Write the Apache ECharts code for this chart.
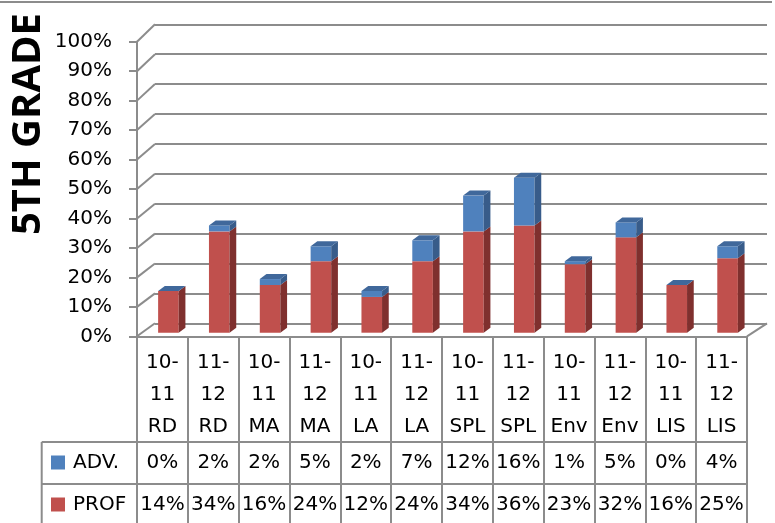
<!DOCTYPE html>
<html>
<head>
<meta charset="utf-8">
<style>
  html, body { margin: 0; padding: 0; background: #fff; }
  #chart { width: 775px; height: 523px; }
</style>
<script src="https://cdn.jsdelivr.net/npm/echarts@6/dist/echarts.min.js"></script>
</head>
<body>
<div id="chart"></div>
<script>
// ---- data ----
const categories = [
  '10-11 RD', '11-12 RD', '10-11 MA', '11-12 MA', '10-11 LA', '11-12 LA',
  '10-11 SPL', '11-12 SPL', '10-11 Env', '11-12 Env', '10-11 LIS', '11-12 LIS'
];
const advValues  = [0, 2, 2, 5, 2, 7, 12, 16, 1, 5, 0, 4];
const profValues = [14, 34, 16, 24, 12, 24, 34, 36, 23, 32, 16, 25];
const yTicks = [0, 10, 20, 30, 40, 50, 60, 70, 80, 90, 100];

// ---- layout & style ----
const FRONT = { left: 137, top: 41.7, width: 610, height: 294.6 };  // front plane (axis + table)
const BACK  = { left: 155, top: 24.3, width: 612, height: 299 };    // back wall gridlines
const BARS  = { left: 143, top: 34.7, width: 610, height: 298 };    // column plane
const ROW_ADV = 442, ROW_PROF = 484, TABLE_BOTTOM = 526, LEGEND_LEFT = 41.7;
const GRAY = '#8c8c8c';
const FONT = 'DejaVu Sans';
const DX = 6.7, DY = -5;          // column depth
const BAR_RATIO = 0.405;
const COLORS = {
  prof: { face: '#C0504D', side: '#7F302E' },
  adv:  { face: '#4F81BD', side: '#385C8A', top: '#40689B' }
};

const frontBottom = FRONT.top + FRONT.height;

function categoryLabel(c) {
  const parts = c.split(' ');
  const yr = parts[0].split('-');
  return yr[0] + '-\n' + yr[1] + '\n' + parts[1];
}

function column(api, pal, withTop) {
  const i = api.value(0);
  const start = api.value(1);
  const h = api.value(2);
  const base = api.coord([i, start]);
  const top = api.coord([i, start + h]);
  const w = api.size([1, 0])[0] * BAR_RATIO;
  const x0 = base[0] - w / 2, x1 = base[0] + w / 2;
  const yT = top[1], yB = base[1];
  const children = [];
  if (yB - yT > 0) {
    children.push({ type: 'rect', shape: { x: x0, y: yT, width: x1 - x0, height: yB - yT },
      style: { fill: pal.face } });
    children.push({ type: 'polygon',
      shape: { points: [[x1, yT], [x1 + DX, yT + DY], [x1 + DX, yB + DY], [x1, yB]] },
      style: { fill: pal.side } });
  }
  if (withTop) {
    children.push({ type: 'polygon',
      shape: { points: [[x0, yT], [x0 + DX, yT + DY], [x1 + DX, yT + DY], [x1, yT]] },
      style: { fill: pal.top } });
  }
  return { type: 'group', children };
}

const labelText = { fontSize: 20, fontFamily: FONT, color: '#000' };
const line2 = { color: GRAY, width: 2 };

const chart = echarts.init(document.getElementById('chart'), null, { renderer: 'canvas' });

chart.setOption({
  animation: false,
  backgroundColor: '#fff',
  grid: [
    { left: BACK.left, top: BACK.top, width: BACK.width, height: BACK.height, containLabel: false },
    { left: BARS.left, top: BARS.top, width: BARS.width, height: BARS.height, containLabel: false },
    { left: FRONT.left, top: FRONT.top, width: FRONT.width, height: FRONT.height, containLabel: false }
  ],
  xAxis: [
    { gridIndex: 0, type: 'value', min: 0, max: 1, show: false },
    { gridIndex: 1, type: 'category', data: categories, show: false },
    {
      gridIndex: 2, type: 'category', data: categories, position: 'bottom',
      axisLine: { show: true, lineStyle: line2 },
      axisTick: { show: true, interval: 0, length: TABLE_BOTTOM - frontBottom, lineStyle: line2 },
      axisLabel: Object.assign({ interval: 0, margin: 10, lineHeight: 32, formatter: categoryLabel }, labelText)
    },
    {
      gridIndex: 2, type: 'category', data: categories, position: 'bottom',
      offset: ROW_ADV - frontBottom,
      axisLine: { show: true, lineStyle: line2 }, axisTick: { show: false },
      axisLabel: Object.assign({ interval: 0, margin: 11,
        formatter: (v, i) => advValues[i] + '%' }, labelText)
    },
    {
      gridIndex: 2, type: 'category', data: categories, position: 'bottom',
      offset: ROW_PROF - frontBottom,
      axisLine: { show: true, lineStyle: line2 }, axisTick: { show: false },
      axisLabel: Object.assign({ interval: 0, margin: 10.5,
        formatter: (v, i) => profValues[i] + '%' }, labelText)
    }
  ],
  yAxis: [
    {
      gridIndex: 0, type: 'value', min: 0, max: 100, interval: 10,
      axisLine: { show: false }, axisTick: { show: false }, axisLabel: { show: false },
      splitLine: { show: true, lineStyle: line2 }
    },
    { gridIndex: 1, type: 'value', min: 0, max: 100, show: false },
    {
      gridIndex: 2, type: 'value', min: 0, max: 100, interval: 10,
      axisLine: { show: true, lineStyle: line2 },
      axisTick: { show: true, length: 8, lineStyle: line2 },
      axisLabel: Object.assign({ margin: 25, formatter: '{value}%' }, labelText),
      splitLine: { show: false }
    }
  ],
  legend: {
    data: ['ADV.', 'PROF'],
    orient: 'vertical', left: 51, top: 452.5, padding: 0,
    itemWidth: 14, itemHeight: 14, itemGap: 22, icon: 'rect',
    selectedMode: false,
    textStyle: Object.assign({ padding: [0, 0, 0, 3] }, labelText)
  },
  series: [
    {
      // depth edges joining the front axis ticks to the back wall
      type: 'custom', name: 'depth', xAxisIndex: 2, yAxisIndex: 2, silent: true, z: 1,
      data: yTicks.map(v => [0, v]),
      renderItem: function (params, api) {
        const v = api.value(1);
        const p = api.coord([0, v]);
        const xf = p[0] - api.size([1, 0])[0] / 2;
        const yb = BACK.top + BACK.height * (1 - v / 100);
        const children = [{ type: 'line', shape: { x1: xf, y1: p[1], x2: BACK.left, y2: yb },
          style: { stroke: GRAY, lineWidth: 2 } }];
        if (v === 0) {
          children.push({ type: 'line',
            shape: { x1: xf + FRONT.width, y1: p[1], x2: BACK.left + BACK.width, y2: yb },
            style: { stroke: GRAY, lineWidth: 2 } });
        }
        return { type: 'group', children };
      }
    },
    {
      type: 'custom', name: 'PROF', xAxisIndex: 1, yAxisIndex: 1,
      itemStyle: { color: COLORS.prof.face },
      data: profValues.map((v, i) => [i, 0, v]),
      renderItem: (params, api) => column(api, COLORS.prof, false)
    },
    {
      type: 'custom', name: 'ADV.', xAxisIndex: 1, yAxisIndex: 1,
      itemStyle: { color: COLORS.adv.face },
      data: advValues.map((v, i) => [i, profValues[i], v]),
      renderItem: (params, api) => column(api, COLORS.adv, true)
    }
  ],
  graphic: [
    { type: 'line', shape: { x1: 0, y1: 2, x2: 772, y2: 2 }, style: { stroke: GRAY, lineWidth: 2 } },
    { type: 'line', shape: { x1: LEGEND_LEFT, y1: ROW_ADV, x2: FRONT.left, y2: ROW_ADV }, style: { stroke: GRAY, lineWidth: 2 } },
    { type: 'line', shape: { x1: LEGEND_LEFT, y1: ROW_PROF, x2: FRONT.left, y2: ROW_PROF }, style: { stroke: GRAY, lineWidth: 2 } },
    { type: 'line', shape: { x1: LEGEND_LEFT, y1: ROW_ADV, x2: LEGEND_LEFT, y2: TABLE_BOTTOM }, style: { stroke: GRAY, lineWidth: 2 } },
    {
      type: 'text', x: 29, y: 124, rotation: Math.PI / 2,
      style: { text: '5TH GRADE', fontSize: 40, fontWeight: 'bold', fontFamily: 'Open Sans',
        fill: '#000', align: 'center', verticalAlign: 'middle' }
    }
  ]
});
</script>
</body>
</html>
